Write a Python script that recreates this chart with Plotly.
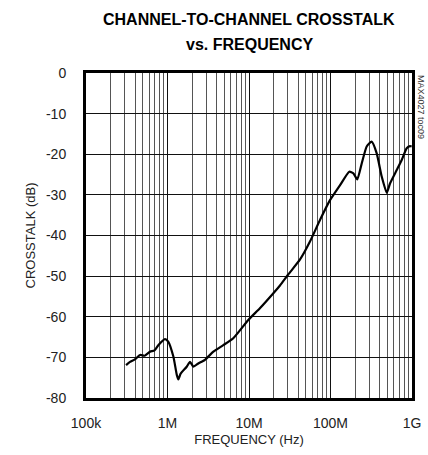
import plotly.graph_objects as go

# Data
freq_hz = [310e3, 347e3, 398e3, 460e3, 525e3, 610e3, 692e3, 771e3, 931e3, 1.02e6,
           1.18e6, 1.30e6, 1.36e6, 1.45e6, 1.72e6, 1.89e6, 2.08e6, 2.39e6, 2.88e6, 3.65e6,
           4.84e6, 6.41e6, 9.8e6, 13.6e6, 19.9e6, 24.0e6, 30.3e6, 42.3e6, 56.0e6, 75.0e6,
           98.6e6, 131e6, 170e6, 191e6, 213e6, 242e6, 278e6, 320e6, 369e6, 425e6,
           490e6, 537e6, 649e6, 748e6, 861e6, 946e6, 991e6]
crosstalk_db = [-71.9, -71.1, -70.5, -69.4, -69.6, -68.6, -68.3, -67.0, -65.5, -66.1,
                -69.8, -74.3, -75.4, -74.0, -72.3, -71.1, -72.3, -71.5, -70.6, -68.6,
                -67.0, -65.3, -60.8, -57.9, -54.2, -52.3, -49.6, -45.9, -41.5, -36.0,
                -31.3, -27.6, -24.3, -24.7, -26.2, -22.2, -18.1, -16.9, -19.8, -25.5,
                -29.5, -27.2, -23.9, -21.4, -18.5, -18.0, -18.1]

x_tick_vals = [1e5, 1e6, 1e7, 1e8, 1e9]
x_tick_text = ["100k", "1M", "10M", "100M", "1G"]
y_tick_vals = [0, -10, -20, -30, -40, -50, -60, -70, -80]
y_tick_text = ["0", "-10", "-20", "-30", "-40", "-50", "-60", "-70", "-80"]

title_lines = ["CHANNEL-TO-CHANNEL CROSSTALK", "vs. FREQUENCY"]

font_family = "Liberation Sans, Arial, sans-serif"

fig = go.Figure()
fig.add_trace(go.Scatter(
    x=freq_hz, y=crosstalk_db, mode="lines",
    line=dict(color="black", width=2.2, shape="spline", smoothing=0.5),
    showlegend=False, hoverinfo="skip",
))

fig.update_layout(
    width=428, height=455,
    margin=dict(l=86, r=16, t=73, b=57),
    paper_bgcolor="white", plot_bgcolor="white",
    font=dict(family=font_family, size=14, color="#222"),
)

# Title as two centred bold lines
for text, ypix in zip(title_lines, [20, 45]):
    fig.add_annotation(
        text="<b>" + text + "</b>", xref="paper", yref="paper",
        x=0.5, y=1 + (73 - ypix) / 325, xanchor="center", yanchor="middle",
        showarrow=False, font=dict(family=font_family, size=16, color="black"),
    )

fig.update_xaxes(
    type="log", range=[5, 9], automargin=False,
    tickvals=x_tick_vals, ticktext=x_tick_text,
    showgrid=True, gridcolor="#111", gridwidth=1.3,
    minor=dict(dtick="D1", showgrid=True, gridcolor="#555", gridwidth=1, ticks=""),
    showline=True, linecolor="black", linewidth=3, mirror=True,
    ticks="", ticklabelstandoff=10,
    title=dict(text="FREQUENCY (Hz)", font=dict(family=font_family, size=13, color="#222"), standoff=6),
    tickfont=dict(family=font_family, size=14, color="#222"),
    zeroline=False,
)
fig.update_yaxes(
    range=[-80, 0], automargin=False,
    tickvals=y_tick_vals, ticktext=y_tick_text,
    showgrid=True, gridcolor="#111", gridwidth=1.3,
    showline=True, linecolor="black", linewidth=3, mirror=True,
    ticks="", ticklabelstandoff=14,
    title=dict(text="CROSSTALK (dB)", font=dict(family=font_family, size=13, color="#222"), standoff=8),
    tickfont=dict(family=font_family, size=14, color="#222"),
    zeroline=False,
)

fig.add_annotation(
    text="MAX4027 toc09", xref="paper", yref="paper",
    x=1.0, y=1.0, xshift=9, xanchor="center", yanchor="top",
    textangle=90, showarrow=False,
    font=dict(family=font_family, size=9, color="#333"),
)

fig.write_html("out.html", config={"displayModeBar": False},
               post_script="document.body.style.margin='0';")
